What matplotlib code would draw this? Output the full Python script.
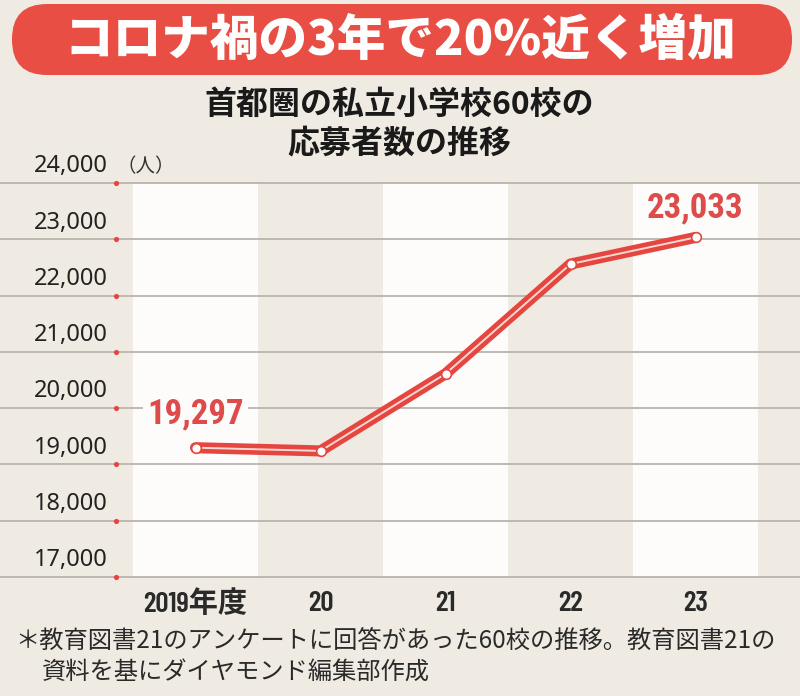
import matplotlib
matplotlib.use("Agg")
import matplotlib.pyplot as plt
from matplotlib.patches import FancyBboxPatch

# ---- data ----
years = ["2019年度", "20", "21", "22", "23"]
applicants = [19297, 19240, 20610, 22560, 23033]
yticks = [17000, 18000, 19000, 20000, 21000, 22000, 23000, 24000]
ytick_labels = ["17,000", "18,000", "19,000", "20,000", "21,000", "22,000", "23,000", "24,000"]
title = "コロナ禍の3年で20%近く増加"
subtitle = "首都圏の私立小学校60校の\n応募者数の推移"
unit = "（人）"
note1 = "＊教育図書21のアンケートに回答があった60校の推移。教育図書21の"
note2 = "資料を基にダイヤモンド編集部作成"

BG = "#efebe2"
RED = "#e5463f"
BANNER = "#e94e45"
GRID = "#b3aea6"
CJK = ["Noto Sans CJK JP", "DejaVu Sans"]
VALFONT = ["Roboto Condensed", "Liberation Sans Narrow", "Noto Sans CJK JP", "DejaVu Sans"]
XFONT = ["Barlow Condensed", "Roboto Condensed", "Noto Sans CJK JP", "DejaVu Sans"]

W, H = 800, 696
fig = plt.figure(figsize=(W / 100, H / 100), dpi=100)
fig.patch.set_facecolor(BG)

# banner
banner = FancyBboxPatch((12 / 100, (H - 75) / 100), 780 / 100, 71 / 100,
                        boxstyle="round,pad=0,rounding_size=0.35",
                        transform=fig.dpi_scale_trans, facecolor=BANNER,
                        edgecolor="none")
fig.patches.append(banner)
fig.text(400 / W, 1 - 41 / H, title, ha="center", va="center", color="white",
         fontsize=35, fontweight="heavy", family=CJK)

fig.text(399 / W, 1 - 124 / H, subtitle, ha="center", va="center",
         color="#1a1a1a", fontsize=23, fontweight="bold", family=CJK,
         linespacing=1.25)

# plot axes: 24000 at px 183, 17000 at px 577
top_px, bot_px = 183, 577
ax = fig.add_axes([0, 1 - bot_px / H, 1, (bot_px - top_px) / H])
ax.set_facecolor(BG)
n = len(years)
x = list(range(n))
ax.set_xlim((0 - 195.5) / 125, (W - 195.5) / 125)
ax.set_ylim(yticks[0], yticks[-1])
for s in ax.spines.values():
    s.set_visible(False)
ax.set_xticks([])
ax.set_yticks([])

for i in range(0, n, 2):
    ax.axvspan(i - 0.5, i + 0.5, color="#fdfcfa", zorder=0, lw=0)

for v, lab in zip(yticks, ytick_labels):
    ax.axhline(v, color=GRID, lw=1.2, zorder=1, clip_on=False)
    ax.annotate(lab, xy=((108 - 195.5) / 125, v), xytext=(0, 12),
                textcoords="offset points", ha="right", va="center",
                fontsize=17, color="#222222", family=["Noto Sans", "DejaVu Sans"],
                fontweight="medium", annotation_clip=False)
ax.scatter([(116 - 195.5) / 125] * len(yticks), yticks, s=14, color=RED,
           zorder=3, clip_on=False, lw=0)
ax.annotate(unit, xy=((116 - 195.5) / 125, yticks[-1]), xytext=(0, 12),
            textcoords="offset points", ha="left", va="center",
            fontsize=14, color="#333333", family=CJK, annotation_clip=False)

# line
ax.plot(x, applicants, color=RED, lw=8, solid_capstyle="round",
        solid_joinstyle="round", zorder=4)
ax.plot(x, applicants, color="#fbd8d2", lw=1.4, solid_capstyle="round",
        solid_joinstyle="round", zorder=5)
ax.plot(x, applicants, ls="none", marker="o", ms=7, mfc="white", mec=RED,
        mew=1.2, zorder=6)

# value labels
ax.annotate(f"{applicants[0]:,}", xy=(x[0], applicants[0]), xytext=(0, 24),
            textcoords="offset points", ha="center", va="center",
            fontsize=25, fontweight="bold", color="#dd4b4b", family=VALFONT,
            bbox=dict(boxstyle="square,pad=0.12", fc="#fdfcfa", ec="none"),
            zorder=7)
ax.annotate(f"{applicants[-1]:,}", xy=(x[-1], applicants[-1]), xytext=(0, 21),
            textcoords="offset points", ha="center", va="center",
            fontsize=25, fontweight="bold", color="#dd4b4b", family=VALFONT,
            zorder=7)

# x labels
for xi, lab in zip(x, years):
    ax.annotate(lab, xy=(xi, yticks[0]), xytext=(0, -19),
                textcoords="offset points", ha="center", va="center",
                fontsize=21, fontweight="semibold", color="#2a2a2a", family=XFONT,
                annotation_clip=False)

fig.text(15 / W, 1 - 641 / H, note1, ha="left", va="center", fontsize=17.5,
         color="#2a2a2a", family=CJK)
fig.text(42 / W, 1 - 672 / H, note2, ha="left", va="center", fontsize=17.5,
         color="#2a2a2a", family=CJK)

fig.savefig("out.png", dpi=100, facecolor=BG)
